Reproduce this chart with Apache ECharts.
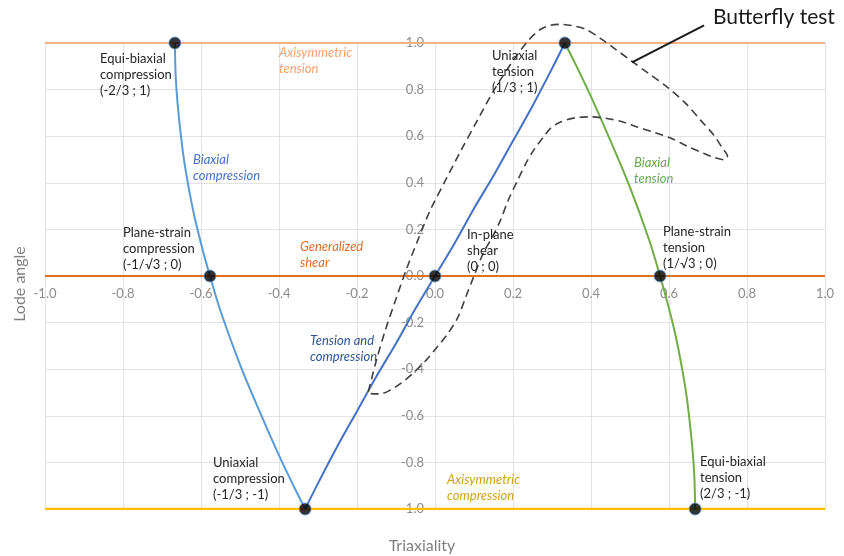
<!DOCTYPE html>
<html>
<head>
<meta charset="utf-8">
<title>Lode angle vs triaxiality</title>
<script src="https://cdn.jsdelivr.net/npm/echarts@6/dist/echarts.min.js"></script>
<style>
html, body { margin: 0; padding: 0; background: #ffffff; }
#chart { width: 844px; height: 556px; }
</style>
</head>
<body>
<div id="chart"></div>
<script>
// paths in (triaxiality, Lode angle)
const biaxialCompression = [
  [-0.667, 1.0], [-0.665, 0.86], [-0.66, 0.74], [-0.65, 0.58], [-0.64, 0.46],
  [-0.62, 0.28], [-0.60, 0.14], [-0.577, 0.0], [-0.55, -0.15], [-0.50, -0.38],
  [-0.45, -0.58], [-0.40, -0.77], [-0.36, -0.91], [-0.333, -1.0]
];
const tensionCompression = [
  [-0.333, -1.0], [-0.30, -0.89], [-0.25, -0.73], [-0.20, -0.58], [-0.15, -0.43],
  [-0.10, -0.29], [-0.05, -0.14], [0.0, 0.0], [0.05, 0.14], [0.10, 0.29],
  [0.15, 0.43], [0.20, 0.58], [0.25, 0.73], [0.30, 0.89], [0.333, 1.0]
];
const biaxialTension = [
  [0.333, 1.0], [0.36, 0.91], [0.40, 0.77], [0.45, 0.58], [0.50, 0.38],
  [0.55, 0.15], [0.577, 0.0], [0.60, -0.14], [0.62, -0.28], [0.64, -0.46],
  [0.65, -0.58], [0.66, -0.74], [0.665, -0.86], [0.667, -1.0]
];
const butterflyLoop = [
  [-0.171, -0.497], [-0.150, -0.360], [-0.127, -0.231], [-0.101, -0.103],
  [-0.074, 0.026], [-0.044, 0.154], [-0.012, 0.283], [0.027, 0.411],
  [0.067, 0.540], [0.109, 0.669], [0.151, 0.797], [0.201, 0.926],
  [0.240, 1.012], [0.271, 1.059], [0.296, 1.076], [0.322, 1.080],
  [0.353, 1.074], [0.386, 1.059], [0.424, 1.020], [0.463, 0.973],
  [0.501, 0.926], [0.547, 0.870], [0.596, 0.810], [0.642, 0.742],
  [0.681, 0.669], [0.715, 0.604], [0.737, 0.549], [0.750, 0.514],
  [0.742, 0.499], [0.717, 0.508], [0.688, 0.527], [0.647, 0.557],
  [0.604, 0.592], [0.561, 0.617], [0.519, 0.639], [0.476, 0.664],
  [0.437, 0.677], [0.399, 0.683], [0.360, 0.679], [0.322, 0.661],
  [0.296, 0.634], [0.278, 0.596], [0.253, 0.540], [0.232, 0.480],
  [0.212, 0.411], [0.188, 0.326], [0.168, 0.240], [0.147, 0.167],
  [0.124, 0.099], [0.099, -0.004], [0.078, -0.094], [0.058, -0.180],
  [0.032, -0.249], [0.006, -0.304], [-0.024, -0.364], [-0.055, -0.415],
  [-0.086, -0.459], [-0.114, -0.489], [-0.140, -0.506], [-0.160, -0.506],
  [-0.171, -0.497]
];
const butterflyPointer = [[0.505, 0.917], [0.690, 1.076]];
const keyPoints = [
  [-0.667, 1.0], [-0.577, 0.0], [-0.333, -1.0], [0.0, 0.0],
  [0.333, 1.0], [0.577, 0.0], [0.667, -1.0]
];
const axisymTension = [[-1, 1], [1, 1]];
const generalizedShear = [[-1, 0], [1, 0]];
const axisymCompression = [[-1, -1], [1, -1]];

const labelFont = '13px Lato, "Noto Sans", sans-serif';
const italicFont = 'italic 13px Lato, "Noto Sans", sans-serif';

// text annotations: [text, left, top, color, italic]
const annotations = [
  ['Equi-biaxial\ncompression\n(-2/3 ; 1)', 100, 51, '#262626', false],
  ['Axisymmetric\ntension', 279, 45, '#F4A26B', true],
  ['Biaxial\ncompression', 193, 152, '#4472C4', true],
  ['Plane-strain\ncompression\n(-1/\u221A3 ; 0)', 123, 225, '#262626', false],
  ['Generalized\nshear', 300, 239, '#D9702F', true],
  ['In-plane\nshear\n(0 ; 0)', 467, 227, '#262626', false],
  ['Uniaxial\ntension\n(1/3 ; 1)', 492, 48, '#262626', false],
  ['Biaxial\ntension', 634, 155, '#6AA84F', true],
  ['Plane-strain\ntension\n(1/\u221A3 ; 0)', 663, 224, '#262626', false],
  ['Tension and\ncompression', 310, 333, '#2F5597', true],
  ['Uniaxial\ncompression\n(-1/3 ; -1)', 213, 455, '#262626', false],
  ['Axisymmetric\ncompression', 447, 472, '#CFA21A', true],
  ['Equi-biaxial\ntension\n(2/3 ; -1)', 700, 454, '#262626', false]
];

const gridBox = { left: 45, right: 19, top: 43, bottom: 47 };
const plotW = 844 - gridBox.left - gridBox.right;
const plotH = 556 - gridBox.top - gridBox.bottom;

const chart = echarts.init(document.getElementById('chart'));

function pathSeries(name, data, color, width, extra) {
  return Object.assign({
    name: name,
    type: 'line',
    data: data,
    showSymbol: false,
    symbol: 'none',
    lineStyle: { color: color, width: width },
    silent: true
  }, extra || {});
}

const graphics = annotations.map(a => ({
  type: 'text',
  left: a[1],
  top: a[2],
  z: 10,
  style: {
    text: a[0],
    fill: a[3],
    font: a[4] ? italicFont : labelFont,
    lineHeight: 16
  }
}));

graphics.push({
  type: 'text',
  left: 713,
  top: 7,
  z: 10,
  style: { text: 'Butterfly test', fill: '#1a1a1a', font: '21px Lato, "Noto Sans", sans-serif' }
});
graphics.push({
  type: 'text',
  x: 20,
  y: 284,
  rotation: Math.PI / 2,
  style: {
    text: 'Lode angle', fill: '#7f7f7f', font: '16px Lato, "Noto Sans", sans-serif',
    textAlign: 'center', textVerticalAlign: 'middle'
  }
});
graphics.push({
  type: 'text',
  x: 422,
  y: 546,
  style: {
    text: 'Triaxiality', fill: '#7f7f7f', font: '16px Lato, "Noto Sans", sans-serif',
    textAlign: 'center', textVerticalAlign: 'middle'
  }
});

const tickLabel = {
  color: '#8c8c8c',
  fontSize: 13,
  fontFamily: 'Lato, "Noto Sans", sans-serif',
  formatter: v => Number(v).toFixed(1)
};

chart.setOption({
  animation: false,
  grid: gridBox,
  xAxis: {
    type: 'value',
    min: -1,
    max: 1,
    interval: 0.2,
    position: 'bottom',
    offset: -plotH / 2,   // axis sits on Lode angle = 0
    axisLine: { show: false, onZero: false },
    axisTick: { show: false },
    axisLabel: Object.assign({ margin: 11, showMinLabel: true, showMaxLabel: true }, tickLabel),
    splitLine: { show: true, lineStyle: { color: '#e3e3e3', width: 1 } }
  },
  yAxis: {
    type: 'value',
    min: -1,
    max: 1,
    interval: 0.2,
    position: 'left',
    offset: -plotW / 2,   // axis sits on triaxiality = 0
    axisLine: { show: false, onZero: false },
    axisTick: { show: false },
    axisLabel: Object.assign({ margin: 11 }, tickLabel),
    splitLine: { show: true, lineStyle: { color: '#e3e3e3', width: 1 } }
  },
  graphic: graphics,
  series: [
    pathSeries('Axisymmetric tension', axisymTension, '#F4B183', 2),
    pathSeries('Generalized shear', generalizedShear, '#E2701F', 2),
    pathSeries('Axisymmetric compression', axisymCompression, '#FFC000', 2.5),
    pathSeries('Biaxial compression', biaxialCompression, '#5B9BD5', 2, { smooth: 0.3 }),
    pathSeries('Tension and compression', tensionCompression, '#4472C4', 2, { smooth: 0.3 }),
    pathSeries('Biaxial tension', biaxialTension, '#70AD47', 2, { smooth: 0.3 }),
    pathSeries('Butterfly test', butterflyLoop, '#404040', 1.6, {
      smooth: 0.3,
      clip: false,
      lineStyle: { color: '#404040', width: 1.6, type: [8, 5] }
    }),
    pathSeries('Butterfly pointer', butterflyPointer, '#1a1a1a', 2, { clip: false }),
    {
      name: 'Stress states',
      type: 'scatter',
      data: keyPoints,
      symbol: 'circle',
      symbolSize: 12,
      clip: false,
      z: 5,
      itemStyle: { color: '#000000', borderColor: '#5B9BD5', borderWidth: 1 },
      silent: true
    }
  ]
});
</script>
</body>
</html>
